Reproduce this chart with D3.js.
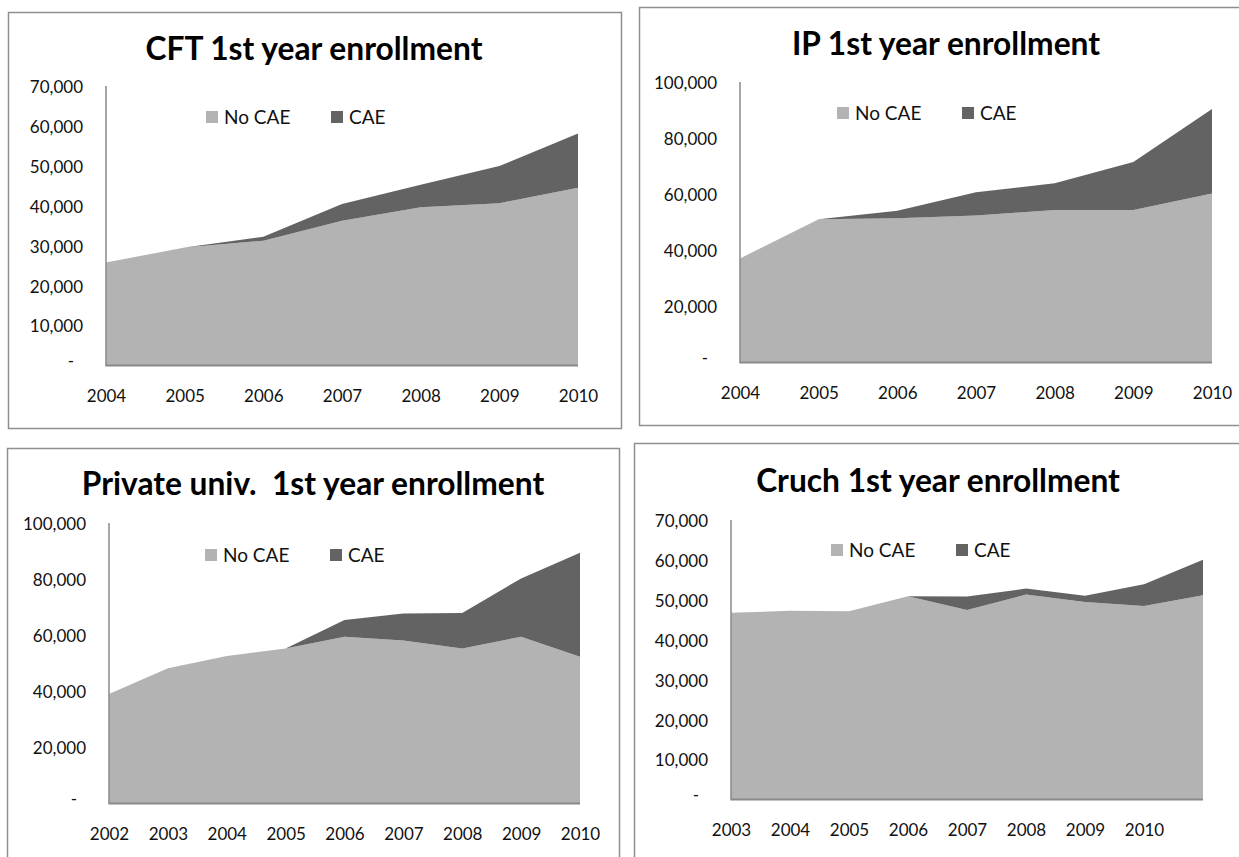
<!DOCTYPE html>
<html>
<head>
<meta charset="utf-8">
<script src="https://cdn.jsdelivr.net/npm/d3@7"></script>
<style>
  html, body { margin: 0; padding: 0; background: #fff; }
  svg { display: block; font-family: Lato, "Open Sans", "Noto Sans", sans-serif; }
</style>
</head>
<body>
<svg id="chart" width="1239" height="857"></svg>
<script>
// ---- Data: first-year enrollment, split into students without / with CAE ----
const cftYears   = ["2004", "2005", "2006", "2007", "2008", "2009", "2010"];
const cftNoCae   = [25700, 29500, 31200, 36200, 39600, 40600, 44500];
const cftCae     = [0, 0, 1000, 4200, 5600, 9300, 13600];
const cftTicks   = [0, 10000, 20000, 30000, 40000, 50000, 60000, 70000];

const ipYears    = ["2004", "2005", "2006", "2007", "2008", "2009", "2010"];
const ipNoCae    = [37000, 51000, 51300, 52300, 54300, 54300, 60200];
const ipCae      = [0, 0, 2700, 8300, 9500, 17100, 30200];
const ipTicks    = [0, 20000, 40000, 60000, 80000, 100000];

const privYears  = ["2002", "2003", "2004", "2005", "2006", "2007", "2008", "2009", "2010"];
const privNoCae  = [38900, 48100, 52500, 55200, 59400, 58000, 55200, 59400, 52200];
const privCae    = [0, 0, 0, 0, 6000, 9700, 12700, 20800, 37200];
const privTicks  = [0, 20000, 40000, 60000, 80000, 100000];

// The last point of this series carries no category label.
const cruchYears = ["2003", "2004", "2005", "2006", "2007", "2008", "2009", "2010", ""];
const cruchNoCae = [46700, 47200, 47100, 50900, 47400, 51300, 49400, 48400, 51100];
const cruchCae   = [0, 0, 0, 0, 3400, 1500, 1600, 5500, 8900];
const cruchTicks = [0, 10000, 20000, 30000, 40000, 50000, 60000, 70000];

const seriesNames = ["No CAE", "CAE"];

// ---- Styling ----
const COLORS = { noCae: "#b3b3b3", cae: "#636363" };
const AXIS_COLOR = "#8a8a8a";
const BORDER_COLOR = "#8f8f8f";
const TEXT_COLOR = "#111";

// ---- Layout of the four chart panels ----
const panels = [
  { title: "CFT 1st year enrollment", years: cftYears, noCae: cftNoCae, cae: cftCae, ticks: cftTicks,
    box: { x: 8, y: 12, w: 613, h: 416 }, plot: { l: 106, t: 86, r: 578, b: 365 },
    titleX: 314, titleY: 60, legendX: 206, legendY: 117 },
  { title: "IP 1st year enrollment", years: ipYears, noCae: ipNoCae, cae: ipCae, ticks: ipTicks,
    box: { x: 639, y: 7, w: 640, h: 418 }, plot: { l: 740, t: 82, r: 1212, b: 362 },
    titleX: 946, titleY: 55, legendX: 837, legendY: 113 },
  { title: "Private univ.\u00a0 1st year enrollment", years: privYears, noCae: privNoCae, cae: privCae, ticks: privTicks,
    box: { x: 7, y: 448, w: 612, h: 440 }, plot: { l: 109, t: 523, r: 580, b: 803 },
    titleX: 313, titleY: 495, legendX: 205, legendY: 555 },
  { title: "Cruch 1st year enrollment", years: cruchYears, noCae: cruchNoCae, cae: cruchCae, ticks: cruchTicks,
    box: { x: 634, y: 443, w: 640, h: 440 }, plot: { l: 731, t: 520, r: 1203, b: 799 },
    titleX: 938, titleY: 492, legendX: 831, legendY: 550 }
];

const svg = d3.select("#chart");
const numFmt = d3.format(",");

// Title size: shared by all panels, sized from the first title's width.
const probe = svg.append("text")
  .attr("font-weight", 700).attr("font-size", 30)
  .text(panels[0].title);
const probeW = probe.node().getComputedTextLength();
probe.remove();
const titleSize = 30 * 337 / probeW;

panels.forEach(p => {
  const g = svg.append("g");

  // panel frame
  g.append("rect")
    .attr("x", p.box.x + 0.5).attr("y", p.box.y + 0.5)
    .attr("width", p.box.w).attr("height", p.box.h)
    .attr("fill", "#fff").attr("stroke", BORDER_COLOR).attr("stroke-width", 1.5);

  // title
  g.append("text")
    .attr("x", p.titleX).attr("y", p.titleY)
    .attr("text-anchor", "middle")
    .attr("font-weight", 700).attr("font-size", titleSize)
    .attr("fill", "#000")
    .text(p.title);

  // scales
  const x = d3.scalePoint().domain(d3.range(p.years.length)).range([p.plot.l, p.plot.r]).padding(0);
  const y = d3.scaleLinear().domain([0, d3.max(p.ticks)]).range([p.plot.b, p.plot.t]);

  // stacked areas
  const rows = p.years.map((yr, i) => ({ i, noCae: p.noCae[i], cae: p.cae[i] }));
  const stacked = d3.stack().keys(["noCae", "cae"])(rows);
  const area = d3.area()
    .x(d => x(d.data.i))
    .y0(d => y(d[0]))
    .y1(d => y(d[1]));

  g.selectAll("path.layer")
    .data(stacked)
    .join("path")
    .attr("class", "layer")
    .attr("fill", d => COLORS[d.key])
    .attr("d", area);

  // y axis (labels only; the line is drawn separately)
  const yAxis = d3.axisLeft(y)
    .tickValues(p.ticks)
    .tickSize(0)
    .tickPadding(23)
    .tickFormat(d => d === 0 ? "-" : numFmt(d));
  const yg = g.append("g").attr("transform", `translate(${p.plot.l},0)`).call(yAxis);
  yg.select(".domain").remove();
  yg.selectAll("text")
    .attr("font-size", 17)
    .attr("fill", TEXT_COLOR)
    .attr("font-family", "Lato, sans-serif")
    .attr("dy", "0.4em");
  yg.selectAll(".tick").filter(d => d === 0).select("text")
    .attr("text-anchor", "middle")
    .attr("x", -35)
    .attr("dy", "0.1em");

  // x axis labels
  const xAxis = d3.axisBottom(x)
    .tickSize(0)
    .tickPadding(25)
    .tickFormat(i => p.years[i]);
  const xg = g.append("g").attr("transform", `translate(0,${p.plot.b})`).call(xAxis);
  xg.select(".domain").remove();
  xg.selectAll("text")
    .attr("font-size", 17)
    .attr("fill", TEXT_COLOR)
    .attr("font-family", "Lato, sans-serif");

  // axis lines
  g.append("line")
    .attr("x1", p.plot.l).attr("x2", p.plot.l)
    .attr("y1", y(d3.max(p.ticks))).attr("y2", p.plot.b)
    .attr("stroke", AXIS_COLOR).attr("stroke-width", 1.5);
  g.append("line")
    .attr("x1", p.plot.l - 0.75).attr("x2", p.plot.r)
    .attr("y1", p.plot.b + 0.5).attr("y2", p.plot.b + 0.5)
    .attr("stroke", AXIS_COLOR).attr("stroke-width", 2);

  // legend
  const legendKeys = ["noCae", "cae"];
  const lg = g.append("g").attr("transform", `translate(${p.legendX},${p.legendY})`);
  const item = lg.selectAll("g.item")
    .data(legendKeys)
    .join("g")
    .attr("class", "item")
    .attr("transform", (d, i) => `translate(${i * 125},0)`);
  item.append("rect")
    .attr("x", 0).attr("y", -6)
    .attr("width", 12).attr("height", 12)
    .attr("fill", d => COLORS[d]);
  item.append("text")
    .attr("x", 18).attr("y", 0)
    .attr("dy", "0.36em")
    .attr("font-size", 19)
    .attr("fill", TEXT_COLOR)
    .text((d, i) => seriesNames[i]);
});
</script>
</body>
</html>
